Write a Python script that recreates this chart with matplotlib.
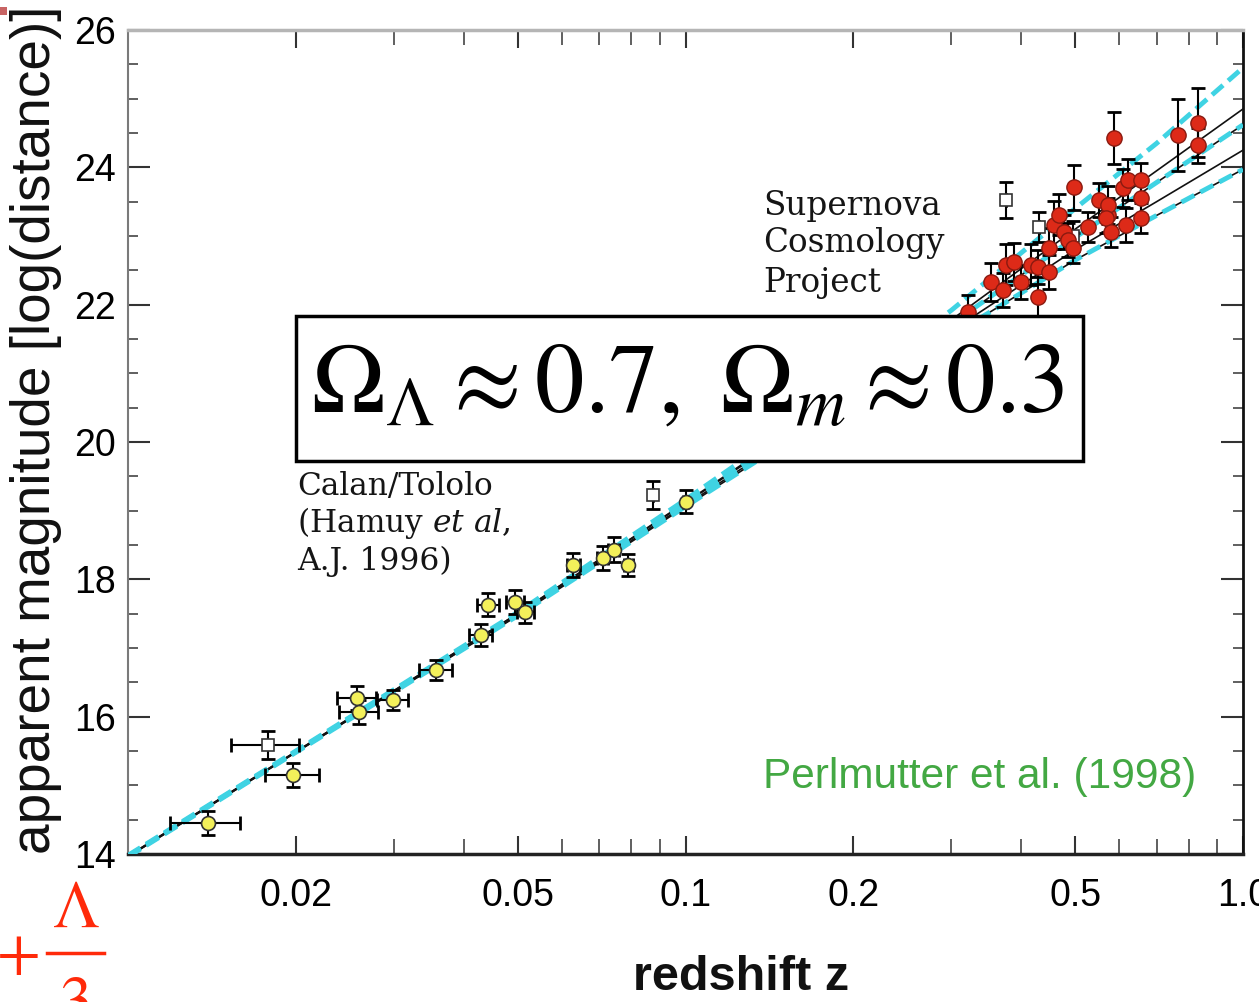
import numpy as np
import matplotlib
matplotlib.use('Agg')
import matplotlib.pyplot as plt
from matplotlib.patches import Rectangle
from matplotlib.lines import Line2D
from matplotlib.ticker import FixedLocator, FixedFormatter, NullFormatter, MultipleLocator

plt.rcParams['font.family'] = ['Liberation Sans', 'DejaVu Sans']

W, H = 1259, 1002

# --- model curves ---
LINE_Z = [0.01, 0.02, 0.05, 0.1, 0.2, 0.3, 0.5, 0.7, 1.0]
M_CURVE_1 = [13.98, 15.50, 17.52, 19.16, 20.85, 21.92, 23.40, 24.35, 25.45]
M_CURVE_2 = [13.97, 15.49, 17.50, 19.12, 20.76, 21.78, 23.10, 23.95, 24.85]
M_CURVE_3 = [13.97, 15.49, 17.50, 19.11, 20.73, 21.72, 22.98, 23.78, 24.62]
M_CURVE_4 = [13.96, 15.48, 17.48, 19.08, 20.67, 21.62, 22.80, 23.50, 24.25]
M_CURVE_5 = [13.96, 15.48, 17.47, 19.06, 20.62, 21.55, 22.65, 23.30, 23.97]

# --- Calan/Tololo (yellow) ---
CT_Z = [0.0139, 0.0198, 0.0258, 0.0260, 0.0299, 0.0357, 0.0429, 0.0443,
        0.0495, 0.0516, 0.0629, 0.0710, 0.0743, 0.0790, 0.1000]
CT_M = [14.45, 15.15, 16.27, 16.07, 16.24, 16.68, 17.19, 17.63,
        17.67, 17.52, 18.21, 18.31, 18.43, 18.21, 19.13]
CT_YERR = [0.17, 0.17, 0.18, 0.18, 0.15, 0.15, 0.16, 0.17,
           0.17, 0.15, 0.17, 0.18, 0.18, 0.16, 0.17]
CT_XERR = [0.0020, 0.0022, 0.0021, 0.0021, 0.0019, 0.0024, 0.0020, 0.0020,
           0.0018, 0.0018, 0.0017, 0.0016, 0.0016, 0.0015, 0.0012]

# --- open (excluded) points ---
OPEN_Z = [0.0178, 0.0876, 0.375, 0.430, 0.495]
OPEN_M = [15.59, 19.23, 23.52, 23.13, 23.00]
OPEN_YERR = [0.20, 0.20, 0.26, 0.22, 0.22]
OPEN_XERR = [0.0025, 0.0, 0.0, 0.0, 0.0]

# --- Supernova Cosmology Project (red) ---
SCP_Z = [0.321, 0.353, 0.371, 0.375, 0.388, 0.400, 0.416, 0.429, 0.429, 0.448,
         0.448, 0.458, 0.467, 0.477, 0.485, 0.495, 0.497, 0.527, 0.551, 0.572,
         0.572, 0.567, 0.579, 0.587, 0.609, 0.622, 0.617, 0.656, 0.656, 0.656,
         0.765, 0.830, 0.830]
SCP_M = [21.89, 22.33, 22.21, 22.58, 22.62, 22.33, 22.58, 22.55, 22.11, 22.48,
         22.82, 23.16, 23.31, 23.06, 22.94, 22.82, 23.71, 23.13, 23.52, 23.31,
         23.45, 23.26, 23.06, 24.43, 23.70, 23.82, 23.16, 23.82, 23.55, 23.26,
         24.47, 24.65, 24.32]
SCP_YERR = [0.25, 0.28, 0.25, 0.30, 0.28, 0.25, 0.30, 0.25, 0.30, 0.25,
            0.30, 0.35, 0.30, 0.25, 0.25, 0.22, 0.33, 0.22, 0.25, 0.25,
            0.28, 0.22, 0.22, 0.38, 0.28, 0.30, 0.25, 0.25, 0.25, 0.22,
            0.53, 0.50, 0.25]

X_MAJOR = [0.02, 0.05, 0.1, 0.2, 0.5, 1.0]
X_MAJOR_LABELS = ['0.02', '0.05', '0.1', '0.2', '0.5', '1.0']
X_MINOR = [0.03, 0.04, 0.06, 0.07, 0.08, 0.09, 0.3, 0.4, 0.6, 0.7, 0.8, 0.9]


def fx(px):
    return px / W


def fy(py):
    return 1 - py / H


fig = plt.figure(figsize=(W / 100, H / 100), dpi=100)
ax = fig.add_axes([fx(128), fy(854), fx(1243) - fx(128), fy(30) - fy(854)])

ax.set_xscale('log')
ax.set_xlim(0.01, 1.0)
ax.set_ylim(14, 26)

cyan = '#3fd3e3'
for m in [M_CURVE_2, M_CURVE_3, M_CURVE_4, M_CURVE_5]:
    ax.plot(LINE_Z, m, color='#111111', lw=1.2, zorder=2)
for m in [M_CURVE_1, M_CURVE_3, M_CURVE_5]:
    ax.plot(LINE_Z, m, color=cyan, lw=3.5, dashes=(3, 1.4), zorder=3)

ekw = dict(fmt='none', ecolor='black', elinewidth=1.5, capsize=5, capthick=2, zorder=4)
ax.errorbar(CT_Z, CT_M, yerr=CT_YERR, xerr=CT_XERR, **ekw)
ax.errorbar(OPEN_Z, OPEN_M, yerr=OPEN_YERR, xerr=OPEN_XERR, **ekw)
ax.errorbar(SCP_Z, SCP_M, yerr=SCP_YERR, **ekw)

ax.plot(CT_Z, CT_M, 'o', ms=10, mfc='#f3f05a', mec='#333333', mew=1.2, zorder=5)
ax.plot(OPEN_Z, OPEN_M, 's', ms=8, mfc='white', mec='#333333', mew=1.2, zorder=5)
ax.plot(SCP_Z, SCP_M, 'o', ms=11, mfc='#dd2a18', mec='#8a1a10', mew=1.0, zorder=5)

# axes styling
ax.xaxis.set_major_locator(FixedLocator(X_MAJOR))
ax.xaxis.set_major_formatter(FixedFormatter(X_MAJOR_LABELS))
ax.xaxis.set_minor_locator(FixedLocator(X_MINOR))
ax.xaxis.set_minor_formatter(NullFormatter())
ax.yaxis.set_major_locator(MultipleLocator(2))
ax.yaxis.set_minor_locator(MultipleLocator(0.5))

ax.tick_params(axis='y', which='major', direction='in', length=16, width=1.5,
               left=True, right=True, labelsize=27, pad=9, color='#333333')
ax.tick_params(axis='y', which='minor', direction='in', length=7, width=1.2,
               left=True, right=True, color='#444444')
ax.tick_params(axis='x', which='major', direction='in', length=13, width=1.5,
               top=True, bottom=True, labelsize=27, pad=17, color='#333333')
ax.tick_params(axis='x', which='minor', direction='in', length=11, width=1.2,
               top=True, bottom=True, color='#444444')

ax.spines['top'].set_color('#b5b5b5')
ax.spines['top'].set_linewidth(2.5)
ax.spines['left'].set_color('#7a7a7a')
ax.spines['left'].set_linewidth(1.5)
ax.spines['bottom'].set_color('#222222')
ax.spines['bottom'].set_linewidth(2.5)
ax.spines['right'].set_color('#111111')
ax.spines['right'].set_linewidth(2)

# axis labels
fig.text(fx(36), fy(430), 'apparent magnitude [log(distance)]', rotation=90,
         ha='center', va='center', fontsize=39.5, color='#111111')
fig.text(fx(741), fy(990), 'redshift z', ha='center', va='baseline',
         fontsize=35, fontweight='bold', color='#111111')

# annotations
serif = 'DejaVu Serif'
for txt, py in [('Supernova', 215), ('Cosmology', 252), ('Project', 292)]:
    fig.text(fx(763), fy(py), txt, ha='left', va='baseline', family=serif,
             fontsize=23.5, color='#151515')
for txt, py in [('Calan/Tololo', 495), (r'(Hamuy $\mathit{et\ al}$,', 532),
                ('A.J. 1996)', 570)]:
    fig.text(fx(297), fy(py), txt, ha='left', va='baseline', family=serif,
             math_fontfamily='dejavuserif', fontsize=22.5, color='#151515')

fig.text(fx(763), fy(788), 'Perlmutter et al. (1998)', ha='left', va='baseline',
         fontsize=30.5, color='#43a843')

# Omega box
rect = Rectangle((fx(296), fy(461)), fx(1083) - fx(296), fy(316) - fy(461),
                 transform=fig.transFigure, facecolor='white', edgecolor='black',
                 lw=2.5, zorder=6)
fig.add_artist(rect)
fig.text(fx(688), fy(412), r'$\Omega_\Lambda \approx 0.7,\ \Omega_m \approx 0.3$',
         ha='center', va='baseline', fontsize=71, math_fontfamily='stix',
         color='black', zorder=7)

# stray slide fragments
red = '#ff2a0a'
fig.text(fx(19), fy(957), '+', ha='center', va='center', family='STIXGeneral',
         fontsize=46, color=red)
fig.text(fx(76), fy(927), '\u039b', ha='center', va='baseline', family='STIXGeneral',
         fontsize=48, color=red)
fig.add_artist(Line2D([fx(47), fx(104)], [fy(953), fy(953)], transform=fig.transFigure,
                      color=red, lw=2.5))
fig.text(fx(76), fy(977), '3', ha='center', va='top', family='STIXGeneral',
         fontsize=48, color=red)
fig.add_artist(Rectangle((0, fy(15)), fx(7), fy(7) - fy(15), transform=fig.transFigure,
                         facecolor='#c86464', edgecolor='none'))

fig.savefig('out.png', dpi=100)
